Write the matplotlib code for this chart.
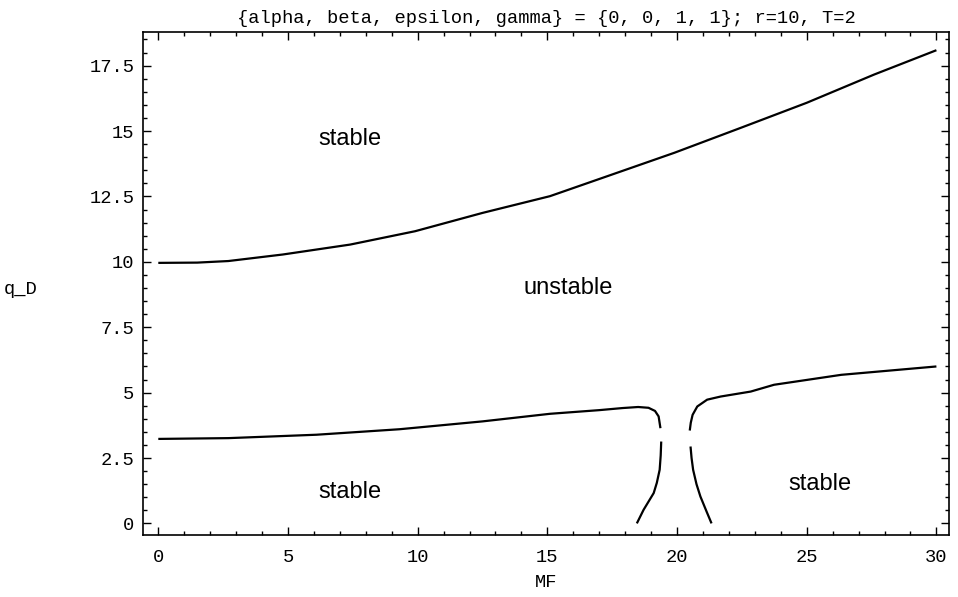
import matplotlib
matplotlib.use("Agg")
import matplotlib.pyplot as plt
from matplotlib.ticker import MultipleLocator

# 曲线数据
upper_x = [0.0, 1.5, 2.7, 4.8, 7.4, 9.9, 12.5, 15.1, 17.3, 19.9, 22.45, 25.0, 27.6, 30.0]
upper_y = [9.96, 9.97, 10.03, 10.28, 10.66, 11.17, 11.87, 12.51, 13.27, 14.17, 15.12, 16.08, 17.16, 18.09]

lower_left_x = [0.0, 2.7, 6.1, 9.3, 12.5, 15.1, 17.0, 17.9, 18.5, 18.9, 19.15, 19.29, 19.36]
lower_left_y = [3.23, 3.26, 3.39, 3.60, 3.90, 4.19, 4.33, 4.41, 4.45, 4.42, 4.30, 4.09, 3.64]

gap_left_x = [19.39, 19.37, 19.33, 19.22, 19.1, 18.71, 18.45]
gap_left_y = [3.13, 2.6, 2.05, 1.55, 1.16, 0.52, 0.0]

lower_right_x = [20.49, 20.53, 20.6, 20.78, 21.16, 21.68, 22.84, 23.74, 26.33, 30.0]
lower_right_y = [3.55, 3.85, 4.15, 4.47, 4.73, 4.85, 5.04, 5.30, 5.68, 6.00]

gap_right_x = [20.52, 20.56, 20.62, 20.75, 20.9, 21.14, 21.33]
gap_right_y = [2.94, 2.5, 2.05, 1.5, 1.03, 0.45, 0.0]

# 区域标注
region_labels = ["stable", "unstable", "stable", "stable"]
region_x = [7.4, 15.8, 7.4, 25.5]
region_y = [14.7, 9.0, 1.2, 1.5]

title = "{alpha, beta, epsilon, gamma} = {0, 0, 1, 1}; r=10, T=2"

fig = plt.figure(figsize=(9.58, 5.97), dpi=100)
ax = fig.add_axes([0.149, 0.104, 0.842, 0.843])

for xs, ys in [(upper_x, upper_y), (lower_left_x, lower_left_y),
               (gap_left_x, gap_left_y), (lower_right_x, lower_right_y),
               (gap_right_x, gap_right_y)]:
    ax.plot(xs, ys, color="black", lw=1.6, solid_capstyle="butt")

for lab, x, y in zip(region_labels, region_x, region_y):
    ax.text(x, y, lab, ha="center", va="center", fontsize=17,
            family="Liberation Sans")

ax.set_xlim(-0.6, 30.5)
ax.set_ylim(-0.44, 18.8)

mono = "Liberation Mono"
ax.xaxis.set_major_locator(MultipleLocator(5))
ax.xaxis.set_minor_locator(MultipleLocator(1))
ax.yaxis.set_minor_locator(MultipleLocator(0.5))
ax.set_yticks([0, 2.5, 5, 7.5, 10, 12.5, 15, 17.5])
ax.set_yticklabels(["0", "2.5", "5", "7.5", "10", "12.5", "15", "17.5"])
ax.tick_params(which="both", direction="in", top=True, right=True, width=1)
ax.tick_params(which="major", length=6, labelsize=13.5)
ax.tick_params(axis="x", which="major", pad=10)
ax.tick_params(axis="y", which="major", pad=6)
ax.tick_params(which="minor", length=3)
for lab in ax.get_xticklabels() + ax.get_yticklabels():
    lab.set_family(mono)

for sp in ax.spines.values():
    sp.set_linewidth(1.2)

ax.set_xlabel("MF", family=mono, fontsize=13.5, labelpad=6)
ax.set_ylabel("q_D", family=mono, fontsize=13.5, rotation=0)
ax.yaxis.set_label_coords(-0.151, 0.47)
ax.set_title(title, family=mono, fontsize=13.5, pad=6)

fig.savefig("out.png", dpi=100)
